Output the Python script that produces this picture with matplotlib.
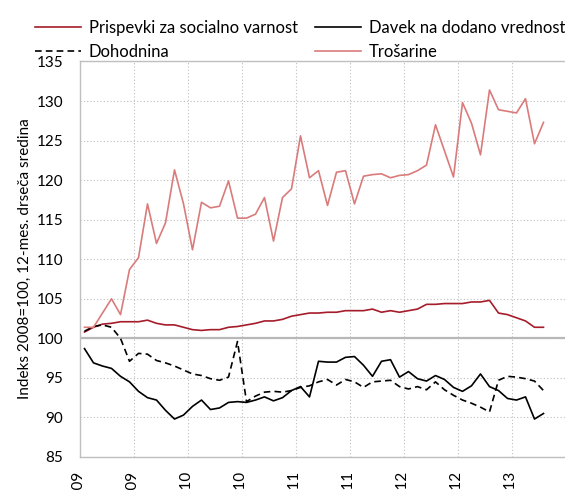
import matplotlib as mpl; mpl.use("Agg")
import matplotlib.pyplot as plt
import numpy as np

mpl.rcParams.update({"font.family": ["Lato", "DejaVu Sans"], "font.size": 10.5})

# monthly 12-month moving averages, index 2008=100, jan.2009 .. apr.2013
months = np.arange(52)
prispevki = [100.8, 101.4, 101.8, 101.9, 102.1, 102.1, 102.1, 102.3, 101.9, 101.7,
             101.7, 101.4, 101.1, 101.0, 101.1, 101.1, 101.4, 101.5, 101.7, 101.9,
             102.2, 102.2, 102.4, 102.8, 103.0, 103.2, 103.2, 103.3, 103.3, 103.5,
             103.5, 103.5, 103.7, 103.3, 103.5, 103.3, 103.5, 103.7, 104.3, 104.3,
             104.4, 104.4, 104.4, 104.6, 104.6, 104.8, 103.2, 103.0, 102.6, 102.2,
             101.4, 101.4]
ddv = [98.7, 96.9, 96.5, 96.2, 95.2, 94.5, 93.3, 92.5, 92.2, 90.9,
       89.8, 90.3, 91.4, 92.2, 91.0, 91.2, 91.9, 92.0, 91.9, 92.2,
       92.6, 92.1, 92.5, 93.4, 93.9, 92.6, 97.1, 97.0, 97.0, 97.6,
       97.7, 96.6, 95.2, 97.1, 97.3, 95.1, 95.8, 94.9, 94.6, 95.3,
       94.8, 93.8, 93.3, 94.0, 95.5, 93.9, 93.4, 92.4, 92.2, 92.6,
       89.8, 90.5]
dohodnina = [100.9, 101.5, 101.7, 101.4, 100.0, 97.1, 98.1, 98.0, 97.2, 96.9,
             96.5, 96.0, 95.5, 95.3, 94.9, 94.7, 95.1, 99.6, 92.0, 92.7,
             93.2, 93.3, 93.2, 93.4, 93.8, 94.0, 94.5, 94.8, 94.1, 94.8,
             94.5, 93.8, 94.5, 94.6, 94.7, 93.9, 93.6, 93.9, 93.5, 94.5,
             93.5, 92.8, 92.2, 91.8, 91.3, 90.7, 94.7, 95.2, 95.1, 94.9,
             94.6, 93.4]
trosarine = [101.4, 101.4, 103.2, 105.0, 103.0, 108.7, 110.2, 117.0, 112.0, 114.6,
             121.3, 117.0, 111.2, 117.2, 116.5, 116.7, 119.9, 115.2, 115.2, 115.7,
             117.8, 112.3, 117.8, 118.9, 125.6, 120.3, 121.2, 116.8, 121.0, 121.2,
             117.0, 120.5, 120.7, 120.8, 120.3, 120.6, 120.7, 121.2, 121.9, 127.0,
             123.7, 120.4, 129.8, 127.2, 123.2, 131.4, 128.9, 128.7, 128.5, 130.3,
             124.6, 127.3]
tick_pos = np.arange(0, 54, 6)
tick_labels = ["jan.09", "jul.09", "jan.10", "jul.10", "jan.11", "jul.11",
               "jan.12", "jul.12", "jan.13"]

GRID = "#bfbfbf"
fig = plt.figure(figsize=(5.65, 4.9), dpi=100)
ax = fig.add_axes([80 / 565, 33 / 490, 486 / 565, 395.5 / 490])

x = months + 0.5
l1, = ax.plot(x, prispevki, color="#a51c2a", lw=1.2)
l2, = ax.plot(x, ddv, color="black", lw=1.2)
l3, = ax.plot(x, dohodnina, color="black", lw=1.2, dashes=(4, 2.5))
l4, = ax.plot(x, trosarine, color="#da7b7b", lw=1.2)
ax.axhline(100, color="#b8b8b8", lw=1.6, zorder=1)

ax.set_xlim(0, 54)
ax.set_ylim(85, 135)
ax.set_yticks(np.arange(85, 136, 5))
ax.set_xticks(tick_pos)
ax.set_xticklabels(tick_labels, rotation=90, fontsize=11)
ax.tick_params(axis="x", length=0, pad=10.5)
ax.tick_params(axis="y", length=0, pad=12, labelsize=11)
ax.grid(True, color=GRID, lw=0.8, ls=(0, (1, 2)))
ax.set_axisbelow(True)
for s in ax.spines.values():
    s.set_color(GRID)
    s.set_linewidth(1.0)

fig.text(25 / 565, 1 - 259 / 490, "Indeks 2008=100, 12-mes. drseča sredina",
         rotation=90, ha="center", va="center", fontsize=11)

fig.legend([l1, l3, l2, l4],
           ["Prispevki za socialno varnost", "Dohodnina",
            "Davek na dodano vrednost", "Trošarine"],
           ncol=2, loc="upper left", bbox_to_anchor=(28 / 565, 1 - 13 / 490),
           frameon=False, fontsize=12, handlelength=2.8, handletextpad=0.45,
           columnspacing=1.0, labelspacing=0.5, borderaxespad=0)

fig.savefig("out.png", dpi=100)
